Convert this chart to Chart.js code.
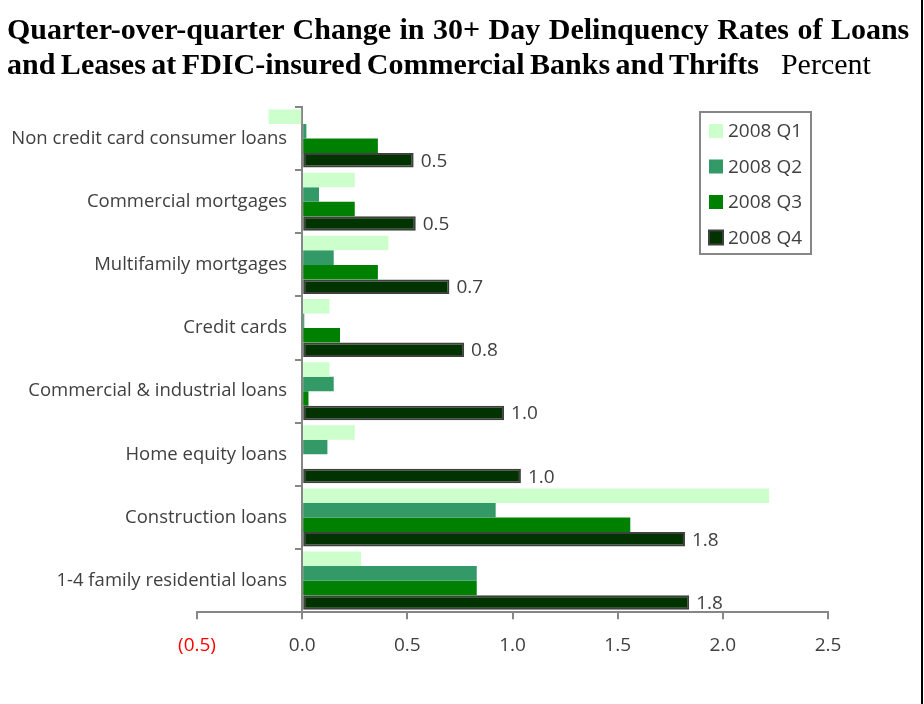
<!DOCTYPE html>
<html>
<head>
<meta charset="utf-8">
<script src="https://cdn.jsdelivr.net/npm/chart.js@4/dist/chart.umd.min.js"></script>
<style>
  html, body { margin: 0; padding: 0; background: #fff; }
  #wrap { position: relative; width: 924px; height: 704px; overflow: hidden; }
  #chart { position: absolute; left: 0; top: 0; }
  .title {
    position: absolute; left: 7px; top: 11px;
    font-family: "Liberation Serif", "Times New Roman", serif;
    font-size: 30px; font-weight: bold; line-height: 35px; color: #000;
    white-space: nowrap;
  }
  .title .l1 { word-spacing: 1px; }
  .title .l2 { word-spacing: -2px; }
  .title .unit { font-weight: normal; margin-left: 22px; word-spacing: 0; }
  .edge { position: absolute; left: 921px; top: 0; width: 2px; height: 704px; background: #000; }
</style>
</head>
<body>
<div id="wrap">
  <canvas id="chart" width="924" height="704"></canvas>
  <div class="title"><span class="l1">Quarter-over-quarter Change in 30+ Day Delinquency Rates of Loans</span><br><span class="l2">and Leases at FDIC-insured Commercial Banks and Thrifts</span><span class="unit">Percent</span></div>
  <div class="edge"></div>
</div>
<script>
const categories = [
  'Non credit card consumer loans',
  'Commercial mortgages',
  'Multifamily mortgages',
  'Credit cards',
  'Commercial & industrial loans',
  'Home equity loans',
  'Construction loans',
  '1-4 family residential loans',
];
const seriesNames = ['2008 Q1', '2008 Q2', '2008 Q3', '2008 Q4'];
const q1 = [-0.16, 0.25, 0.41, 0.13, 0.13, 0.25, 2.22, 0.28];
const q2 = [0.02, 0.08, 0.15, 0.01, 0.15, 0.12, 0.92, 0.83];
const q3 = [0.36, 0.25, 0.36, 0.18, 0.03, 0, 1.56, 0.83];
const q4 = [0.53, 0.54, 0.70, 0.77, 0.96, 1.04, 1.82, 1.84];
const xTicks = [-0.5, 0, 0.5, 1.0, 1.5, 2.0, 2.5];

const textColor = '#404040';
const axisColor = '#868686';

function fmt(v) {
  return v < 0 ? '(' + Math.abs(v).toFixed(1) + ')' : v.toFixed(1);
}

// the category axis sits at x = 0, so push its labels clear of the tick marks
const yLabelGap = {
  id: 'yLabelGap',
  beforeDraw(chart) {
    const items = chart.scales.y.getLabelItems(chart.chartArea);
    items.forEach((item) => {
      if (!item.shifted) {
        item.options.translation[0] -= 15;
        item.shifted = true;
      }
    });
  },
};

// value labels at the end of the Q4 bars
const q4Labels = {
  id: 'q4Labels',
  afterDatasetsDraw(chart) {
    const ctx = chart.ctx;
    const meta = chart.getDatasetMeta(3);
    ctx.save();
    ctx.font = '19px "Open Sans"';
    ctx.fillStyle = textColor;
    ctx.textAlign = 'left';
    ctx.textBaseline = 'middle';
    meta.data.forEach((bar, i) => {
      ctx.fillText(fmt(q4[i]), bar.x + 7, bar.y + 1);
    });
    ctx.restore();
  },
};

// boxed legend sitting inside the plot
const boxLegend = {
  id: 'boxLegend',
  afterDraw(chart) {
    const ctx = chart.ctx;
    const left = 700, top = 112, w = 111, h = 142;
    ctx.save();
    ctx.fillStyle = '#fff';
    ctx.fillRect(left, top, w, h);
    ctx.strokeStyle = axisColor;
    ctx.lineWidth = 2;
    ctx.strokeRect(left, top, w, h);
    ctx.font = '19px "Open Sans"';
    ctx.textBaseline = 'middle';
    ctx.textAlign = 'left';
    chart.data.datasets.forEach((ds, i) => {
      const cy = top + 19 + i * 35.5;
      ctx.fillStyle = ds.backgroundColor;
      ctx.fillRect(left + 9, cy - 7, 14, 14);
      if (ds.borderWidth) {
        ctx.strokeStyle = ds.borderColor;
        ctx.lineWidth = 2;
        ctx.strokeRect(left + 9, cy - 7, 14, 14);
      }
      ctx.fillStyle = textColor;
      ctx.fillText(ds.label, left + 28, cy + 1);
    });
    ctx.restore();
  },
};

const data = {
  labels: categories,
  datasets: [
    { label: seriesNames[0], data: q1, backgroundColor: '#CCFFCC', borderWidth: 0 },
    { label: seriesNames[1], data: q2, backgroundColor: '#339966', borderWidth: 0 },
    { label: seriesNames[2], data: q3, backgroundColor: '#008000', borderWidth: 0 },
    { label: seriesNames[3], data: q4, backgroundColor: '#003300', borderColor: '#404040', borderWidth: 2 },
  ],
};

const config = {
  type: 'bar',
  data,
  options: {
    indexAxis: 'y',
    responsive: false,
    animation: false,
    events: [],
    layout: { padding: { left: 197, right: 96, top: 107, bottom: 32 } },
    datasets: {
      bar: { categoryPercentage: 0.92, barPercentage: 1.0, borderSkipped: false },
    },
    plugins: {
      legend: { display: false },
      tooltip: { enabled: false },
    },
    scales: {
      x: {
        type: 'linear',
        min: -0.5,
        max: 2.5,
        afterBuildTicks: (scale) => {
          scale.ticks = xTicks.map((v) => ({ value: v }));
        },
        grid: { drawOnChartArea: false, color: axisColor, lineWidth: 2, tickLength: 7 },
        border: { color: axisColor, width: 2 },
        ticks: {
          padding: 15,
          font: { family: 'Open Sans', size: 19 },
          color: (c) => (c.tick.value < 0 ? '#ff0000' : textColor),
          callback: (v) => fmt(v),
        },
      },
      y: {
        position: { x: 0 },
        grid: { drawOnChartArea: false, offset: true, color: axisColor, lineWidth: 2, tickLength: 6 },
        border: { color: axisColor, width: 2 },
        ticks: { font: { family: 'Open Sans', size: 18.5 }, color: textColor },
      },
    },
  },
  plugins: [yLabelGap, q4Labels, boxLegend],
};

new Chart(document.getElementById('chart'), config);
</script>
</body>
</html>
